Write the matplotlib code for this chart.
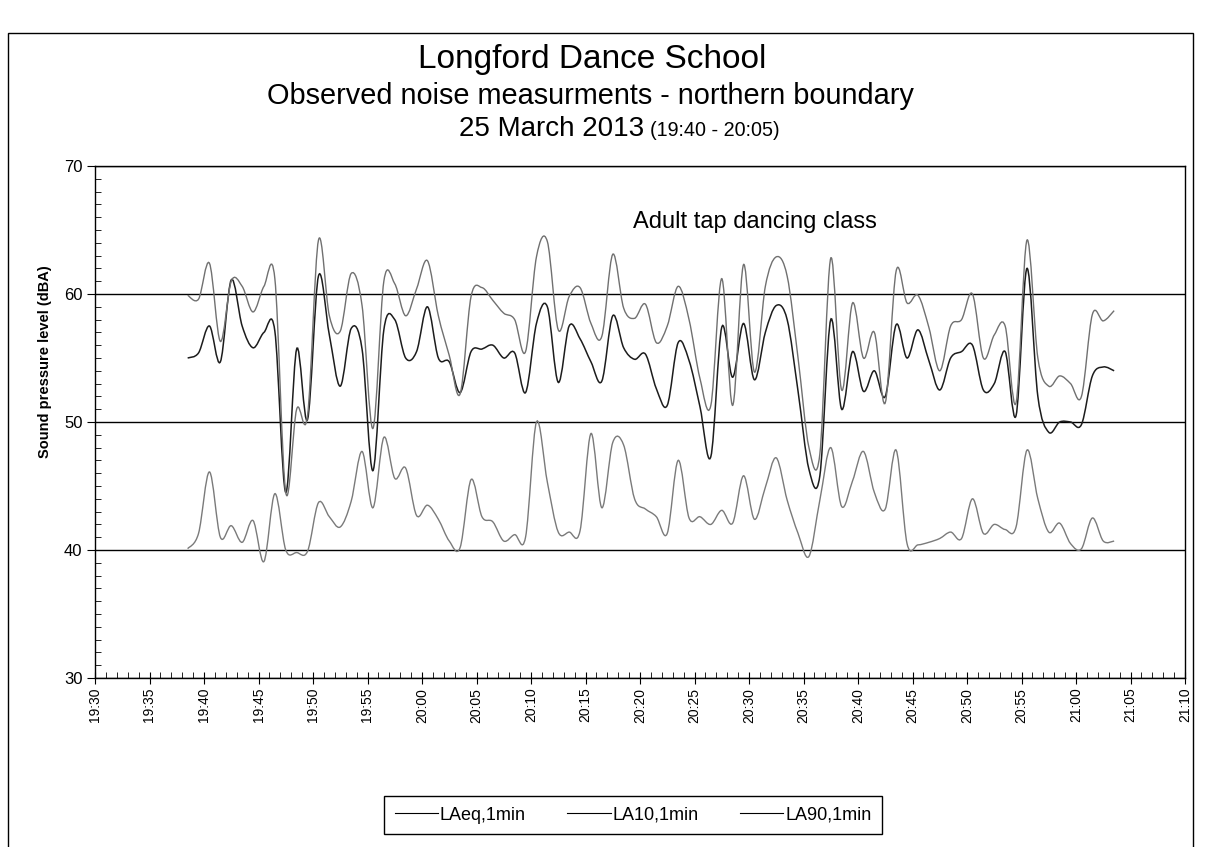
# Longford Dance School - rilievo fonometrico confine nord
import matplotlib
matplotlib.use("Agg")
import matplotlib.pyplot as plt
import matplotlib.dates as mdates
import pandas as pd
from matplotlib.path import Path
from matplotlib.patches import PathPatch, Rectangle
from matplotlib.lines import Line2D

plt.rcParams["font.family"] = ["Liberation Sans", "DejaVu Sans"]

# 1-minute values (dBA)
start_time = "2013-03-25 19:38:30"

la10 = [59.9, 59.6, 62.4, 56.3, 61.0, 60.6, 58.6, 60.6, 61.2, 44.5,
        51.0, 50.5, 64.2, 58.3, 57.1, 61.6, 59.1, 49.5, 61.0, 60.8,
        58.3, 60.4, 62.6, 58.3, 55.2, 52.2, 59.8, 60.5, 59.5, 58.5,
        58.0, 55.5, 62.9, 64.1, 57.2, 59.8, 60.5, 57.7, 56.7, 63.1,
        58.9, 58.1, 59.2, 56.2, 57.5, 60.6, 58.0, 53.4, 51.3, 61.2,
        51.3, 62.3, 53.9, 60.6, 62.9, 61.4, 55.0, 48.0, 47.5, 62.8,
        52.5, 59.3, 55.0, 57.0, 51.5, 61.8, 59.3, 59.9, 57.4, 54.0,
        57.5, 58.0, 60.0, 55.0, 56.8, 57.5, 51.5, 64.2, 55.0, 52.8,
        53.6, 53.0, 52.0, 58.4, 57.9, 58.7]

laeq = [55.0, 55.4, 57.5, 54.7, 61.1, 57.5, 55.8, 57.0, 57.1, 44.5,
        55.7, 50.2, 61.4, 56.8, 52.8, 57.3, 55.7, 46.2, 57.2, 58.0,
        55.0, 55.5, 59.0, 55.0, 54.7, 52.3, 55.5, 55.7, 56.0, 55.0,
        55.4, 52.3, 57.7, 59.0, 53.1, 57.5, 56.5, 54.7, 53.2, 58.3,
        55.8, 54.9, 55.3, 52.6, 51.3, 56.2, 54.8, 51.2, 47.3, 57.4,
        53.5, 57.7, 53.3, 57.0, 59.1, 58.0, 52.4, 46.3, 45.8, 58.0,
        51.0, 55.5, 52.4, 54.0, 52.0, 57.6, 55.0, 57.2, 54.8, 52.5,
        55.0, 55.5, 56.0, 52.5, 53.0, 55.5, 50.5, 62.0, 52.0, 49.2,
        50.0, 50.0, 49.8, 53.6, 54.3, 54.0]

la90 = [40.1, 41.3, 46.1, 41.0, 41.9, 40.6, 42.3, 39.1, 44.4, 40.0,
        39.8, 39.9, 43.7, 42.6, 41.8, 43.8, 47.7, 43.3, 48.8, 45.6,
        46.4, 42.7, 43.5, 42.4, 40.7, 40.2, 45.5, 42.6, 42.2, 40.7,
        41.2, 41.0, 50.0, 45.3, 41.4, 41.4, 41.5, 49.1, 43.3, 48.4,
        48.2, 44.0, 43.2, 42.6, 41.3, 47.0, 42.5, 42.6, 42.0, 43.1,
        42.1, 45.8, 42.4, 44.9, 47.2, 43.9, 41.3, 39.5, 43.9, 48.0,
        43.4, 45.4, 47.7, 44.5, 43.2, 47.8, 40.5, 40.4, 40.6, 40.9,
        41.4, 40.9, 44.0, 41.3, 42.0, 41.6, 41.8, 47.8, 44.0, 41.4,
        42.1, 40.5, 40.1, 42.5, 40.7, 40.7]

series_labels = ["LAeq,1min", "LA10,1min", "LA90,1min"]


def curva_liscia(xs, ys):
    # linea "smussata" tipo excel: bezier cubiche che passano per i punti
    verts = [(xs[0], ys[0])]
    codes = [Path.MOVETO]
    n = len(xs)
    for i in range(n - 1):
        xa, ya = (xs[i - 1], ys[i - 1]) if i > 0 else (xs[i], ys[i])
        xb, yb = (xs[i + 2], ys[i + 2]) if i + 2 < n else (xs[i + 1], ys[i + 1])
        c1 = (xs[i] + (xs[i + 1] - xa) / 6, ys[i] + (ys[i + 1] - ya) / 6)
        c2 = (xs[i + 1] - (xb - xs[i]) / 6, ys[i + 1] - (yb - ys[i]) / 6)
        verts += [c1, c2, (xs[i + 1], ys[i + 1])]
        codes += [Path.CURVE4] * 3
    return Path(verts, codes)


times = pd.date_range(start_time, periods=len(laeq), freq="min")
x = mdates.date2num(times)

W, H = 1205, 847
fig = plt.figure(figsize=(W / 100, H / 100), dpi=100)

# cornice esterna del grafico
fig.add_artist(Rectangle((8 / W, -0.05), (1193 - 8) / W, 1 - 33 / H + 0.05,
                         transform=fig.transFigure, fill=False,
                         edgecolor="black", lw=1.0))

ax = fig.add_axes([95 / W, 1 - 678 / H, (1185 - 95) / W, (678 - 166) / H])

stili = [(laeq, "#1c1c1c", 1.1), (la10, "#707070", 1.0), (la90, "#7a7a7a", 1.0)]
handles = []
for (vals, col, lw), lab in zip(stili, series_labels):
    ax.add_patch(PathPatch(curva_liscia(x, vals), fill=False,
                           edgecolor=col, lw=lw, zorder=3))
    handles.append(Line2D([], [], color="black", lw=0.8, label=lab))

ax.set_xlim(mdates.date2num(pd.Timestamp("2013-03-25 19:30")),
            mdates.date2num(pd.Timestamp("2013-03-25 21:10")))
ax.set_ylim(30, 70)
ax.set_yticks([30, 40, 50, 60, 70])
ax.set_yticks(range(30, 71), minor=True)
ax.xaxis.set_major_locator(mdates.MinuteLocator(byminute=range(0, 60, 5)))
ax.xaxis.set_minor_locator(mdates.MinuteLocator())
ax.xaxis.set_major_formatter(mdates.DateFormatter("%H:%M"))

ax.yaxis.grid(True, which="major", color="black", lw=1.0)
ax.tick_params(axis="y", which="major", direction="out", length=6,
               labelsize=12, pad=3)
ax.tick_params(axis="y", which="minor", direction="in", length=4)
ax.tick_params(axis="x", which="major", direction="inout", length=8,
               labelsize=10, labelrotation=90, pad=3)
ax.tick_params(axis="x", which="minor", direction="in", length=4)
for sp in ax.spines.values():
    sp.set_linewidth(1.0)

ax.text(mdates.date2num(pd.Timestamp("2013-03-25 20:30:30")), 65.6,
        "Adult tap dancing class", ha="center", va="center", fontsize=17)

fig.text(45 / W, 1 - 362 / H, "Sound pressure level (dBA)", rotation=90,
         ha="center", va="center", fontsize=10.5, fontweight="bold")

fig.text(592 / W, 1 - 68 / H, "Longford Dance School", ha="center",
         va="baseline", fontsize=24)
fig.text(590 / W, 1 - 104 / H, "Observed noise measurments - northern boundary",
         ha="center", va="baseline", fontsize=20.8)
fig.text(644 / W, 1 - 136 / H, "25 March 2013", ha="right",
         va="baseline", fontsize=20)
fig.text(650 / W, 1 - 136 / H, "(19:40 - 20:05)", ha="left",
         va="baseline", fontsize=14.2)

fig.legend(handles=handles, loc="center", ncol=3,
           bbox_to_anchor=(633 / W, 1 - 815 / H), fontsize=13,
           frameon=True, fancybox=False, edgecolor="black", framealpha=1,
           handlelength=2.4, handletextpad=0.1, columnspacing=2.3,
           borderpad=0.6)

fig.savefig("out.png", dpi=100)
